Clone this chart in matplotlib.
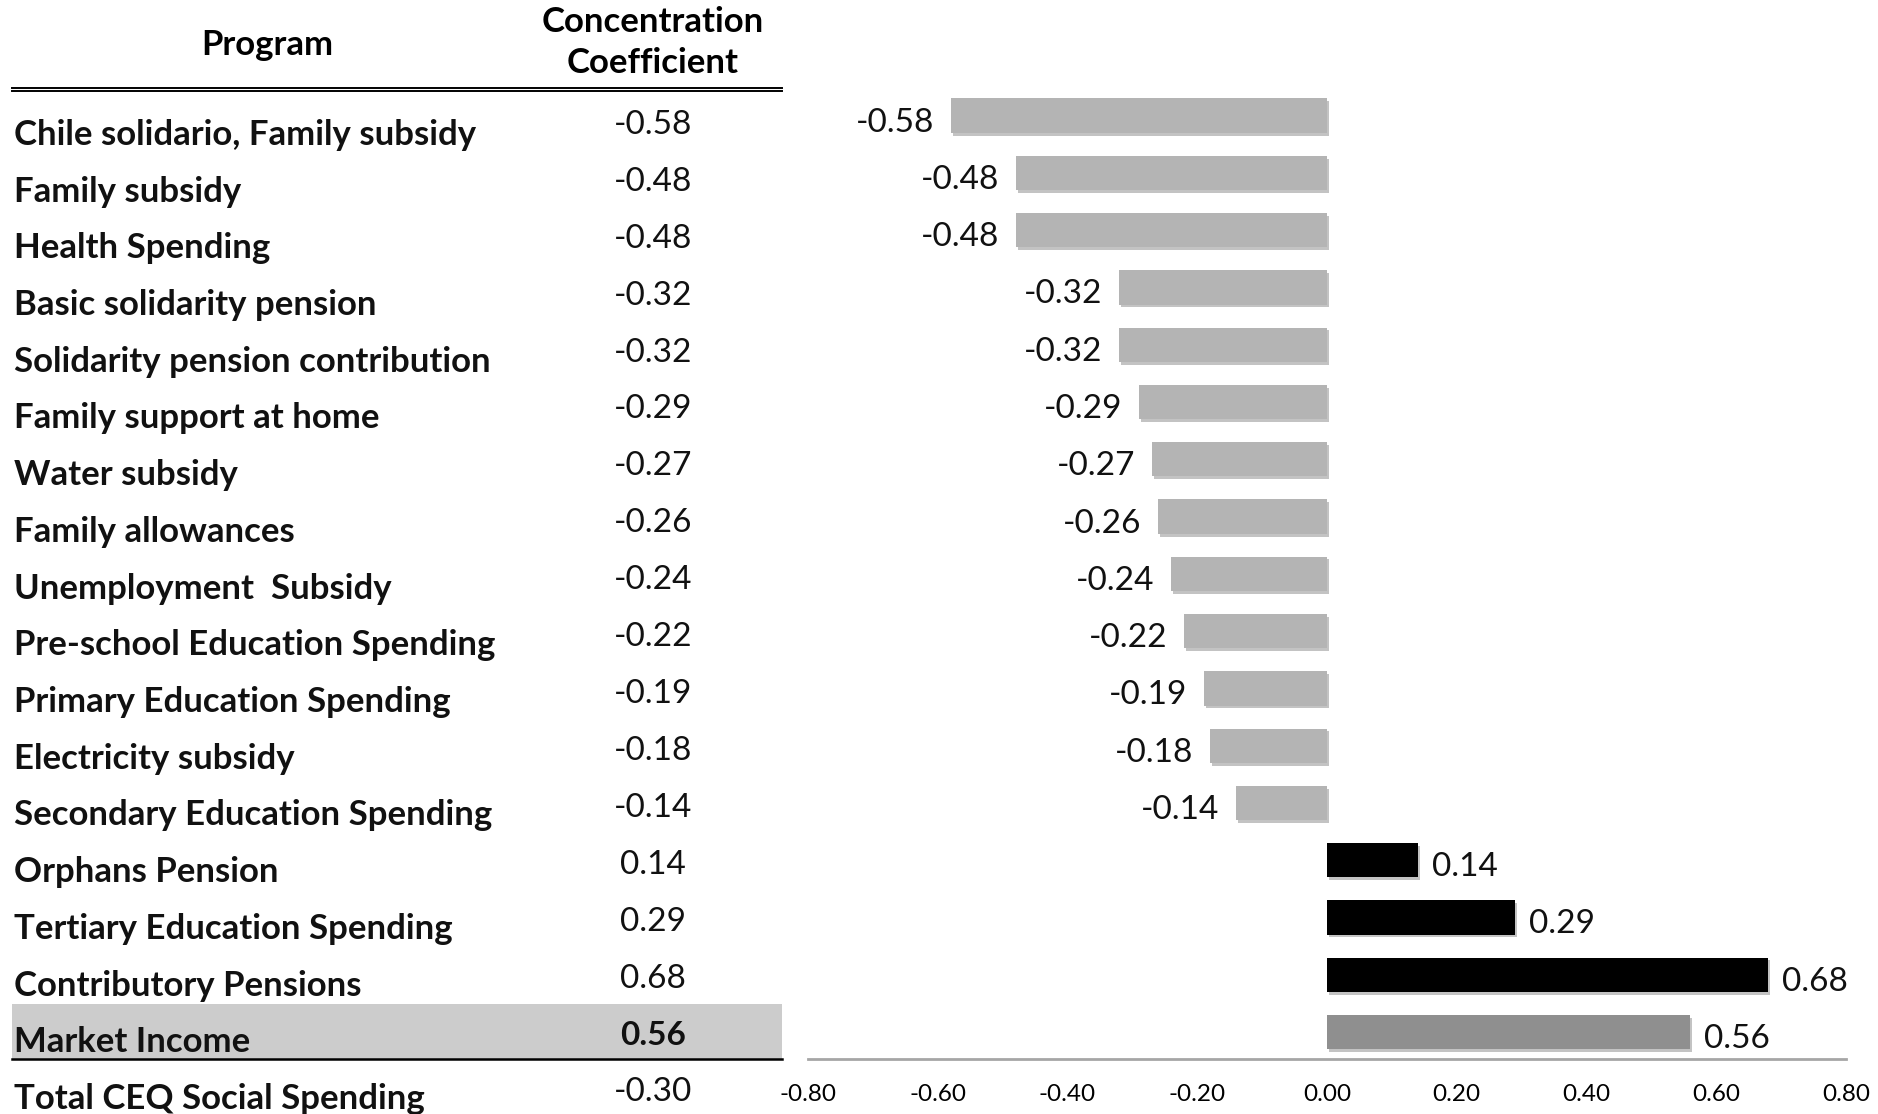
import matplotlib
matplotlib.use("Agg")
import matplotlib.pyplot as plt
import matplotlib.patheffects as pe
from matplotlib.lines import Line2D
from matplotlib.patches import Rectangle
import matplotlib.transforms as mtransforms

plt.rcParams["font.family"] = ["Lato", "DejaVu Sans"]

# ---- data ----
programs = [
    "Chile solidario, Family subsidy",
    "Family subsidy",
    "Health Spending",
    "Basic solidarity pension",
    "Solidarity pension contribution",
    "Family support at home",
    "Water subsidy",
    "Family allowances",
    "Unemployment  Subsidy",
    "Pre-school Education Spending",
    "Primary Education Spending",
    "Electricity subsidy",
    "Secondary Education Spending",
    "Orphans Pension",
    "Tertiary Education Spending",
    "Contributory Pensions",
    "Market Income",
]
coefficients = [-0.58, -0.48, -0.48, -0.32, -0.32, -0.29, -0.27, -0.26, -0.24,
                -0.22, -0.19, -0.18, -0.14, 0.14, 0.29, 0.68, 0.56]
reference_row = "Market Income"
total_label = "Total CEQ Social Spending"
total_value = -0.30
x_ticks = [-0.80, -0.60, -0.40, -0.20, 0.00, 0.20, 0.40, 0.60, 0.80]

# ---- figure geometry (pixels) ----
W, H = 1878, 1114
fig = plt.figure(figsize=(W / 100, H / 100), dpi=100)

def fx(px):
    return px / W

def fy(py):
    return 1 - py / H

ax_left, ax_right, ax_top, ax_bottom = 808, 1846, 87, 1059
ax = fig.add_axes([fx(ax_left), fy(ax_bottom), fx(ax_right - ax_left),
                   (ax_bottom - ax_top) / H])

n = len(programs)
ypos = list(range(n))
y_bottom = n - 1 + 0.47
ax.set_ylim(y_bottom, -0.5)
ax.set_xlim(-0.8, 0.8)

def bar_color(name, v):
    if name == reference_row:
        return "#8f8f8f"
    return "#000000" if v > 0 else "#b4b4b4"

colors = [bar_color(p, v) for p, v in zip(programs, coefficients)]
bars = ax.barh(ypos, coefficients, height=0.6, color=colors, zorder=3)
shadow = [pe.withSimplePatchShadow(offset=(1.5, -2.0), shadow_rgbFace="#555555", alpha=0.35)]
for b in bars:
    b.set_path_effects(shadow)

for y, v in zip(ypos, coefficients):
    if v < 0:
        ax.annotate(f"{v:.2f}", (v, y), xytext=(-12, -5), textcoords="offset points",
                    ha="right", va="center", fontsize=24, color="#111111")
    else:
        ax.annotate(f"{v:.2f}", (v, y), xytext=(10, -5), textcoords="offset points",
                    ha="left", va="center", fontsize=24, color="#111111")

for s in ("top", "right", "left"):
    ax.spines[s].set_visible(False)
ax.spines["bottom"].set_color("#a6a6a6")
ax.spines["bottom"].set_linewidth(2)
ax.set_yticks([])
ax.set_xticks(x_ticks)
ax.set_xticklabels([f"{t:.2f}" for t in x_ticks], fontsize=17.5)
ax.tick_params(axis="x", length=0, pad=18)

# ---- table on the left ----
label_x = fx(14)
num_x = fx(653)
tr = mtransforms.blended_transform_factory(fig.transFigure, ax.transData)

fig.text(fx(267), fy(45), "Program", ha="center", va="center",
         fontsize=25, fontweight="bold")
fig.text(num_x, fy(22), "Concentration", ha="center", va="center",
         fontsize=25, fontweight="bold")
fig.text(num_x, fy(63), "Coefficient", ha="center", va="center",
         fontsize=25, fontweight="bold")
for py in (87.5, 91):
    fig.add_artist(Line2D([fx(12), fx(782)], [fy(py), fy(py)], color="black",
                          lw=1.4, transform=fig.transFigure))

ref_idx = programs.index(reference_row)
fig.add_artist(Rectangle((fx(12), ref_idx - 0.49), fx(782) - fx(12), y_bottom - (ref_idx - 0.49),
                         transform=tr, facecolor="#cccccc", edgecolor="none", zorder=0))
fig.add_artist(Line2D([fx(12), fx(782)], [y_bottom, y_bottom], color="black",
                      lw=1.8, transform=tr))

# table rows placed on their own pixel pitch
label_y0, label_pitch = 135.0, 56.7
num_y0, num_pitch = 125.0, 56.9
rows = programs + [total_label]
values = coefficients + [total_value]
for i, (name, v) in enumerate(zip(rows, values)):
    bold_num = name == reference_row
    fig.text(label_x, fy(label_y0 + i * label_pitch), name, ha="left", va="center",
             fontsize=25, fontweight="bold", color="#111111")
    fig.text(num_x, fy(num_y0 + i * num_pitch), f"{v:.2f}", ha="center", va="center",
             fontsize=24, fontweight="bold" if bold_num else "normal", color="#111111")

fig.savefig("out.png", dpi=100)
